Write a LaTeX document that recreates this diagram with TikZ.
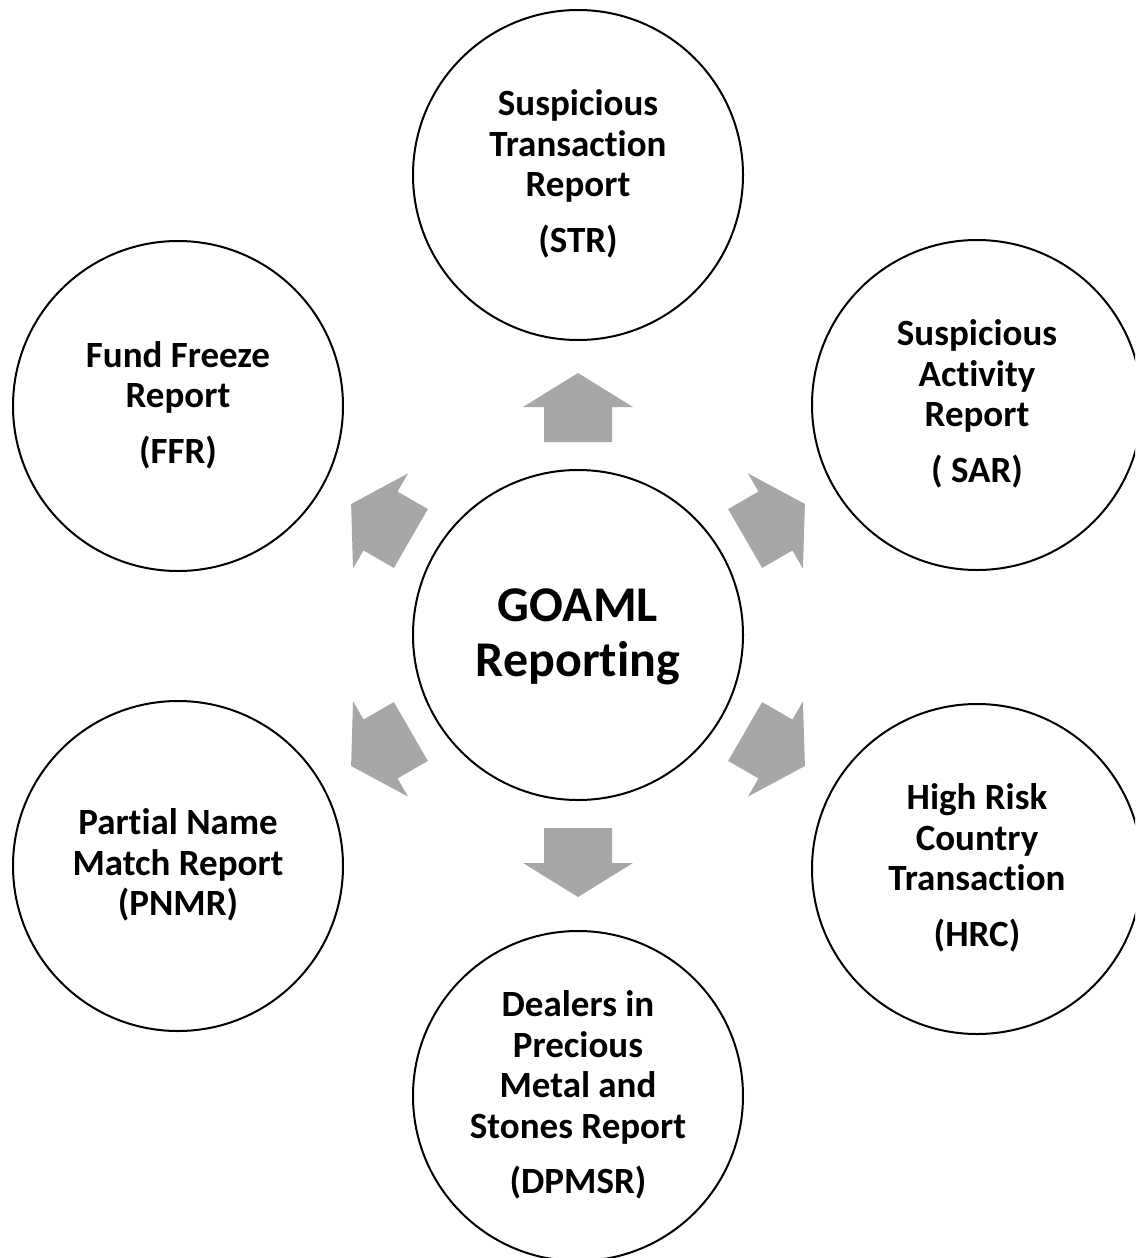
\documentclass[tikz,border=0pt]{standalone}
\usepackage{fontspec}
\setmainfont{Carlito}[Ligatures=NoCommon]
\definecolor{arrowgray}{RGB}{167,167,167}
\newcommand\lsx{\rule[-9pt]{0pt}{36pt}}
\newcommand\lbx{\rule[-12pt]{0pt}{52pt}}
\tikzset{
  bub/.style={circle, draw=black, line width=2pt, fill=white, minimum size=330pt,
    inner sep=0pt, align=center, font=\fontsize{37}{40.5}\selectfont\bfseries},
  hub/.style={bub, font=\fontsize{50}{55}\selectfont\bfseries},
  blockarrow/.style={fill=arrowgray, draw=none}
}
\begin{document}
\begin{tikzpicture}[x=1pt,y=-1pt]
\useasboundingbox (0,0) rectangle (1135,1258);
\clip (0,0) rectangle (1135,1258);
\fill[white] (0,0) rectangle (1135,1258);

\node[hub] (goaml) at (578,635) {\lbx GOAML\\\lbx Reporting};

\node[bub] (str) at (578,175) {\lsx Suspicious\\\lsx Transaction\\\lsx Report\\[15pt]\lsx (STR)};
\node[bub] (sar) at (977,405) {\lsx Suspicious\\\lsx Activity\\\lsx Report\\[15pt]\lsx ( SAR)};
\node[bub] (hrc) at (977,869) {\lsx High Risk\\\lsx Country\\\lsx Transaction\\[15pt]\lsx (HRC)};
\node[bub] (dpmsr) at (578,1096) {\lsx Dealers in\\\lsx Precious\\\lsx Metal and\\\lsx Stones Report\\[15pt]\lsx (DPMSR)};
\node[bub] (pnmr) at (178,866) {\lsx Partial Name\\\lsx Match Report\\\lsx (PNMR)};
\node[bub] (ffr) at (178,406) {\lsx Fund Freeze\\\lsx Report\\[15pt]\lsx (FFR)};

\foreach \ang in {90,30,-30,-90,-150,150}{
  \begin{scope}[shift={(goaml.center)}, rotate=\ang]
    \fill[blockarrow] (193,-34) -- (228,-34) -- (228,-55) -- (262,0) -- (228,55) -- (228,34) -- (193,34) -- cycle;
  \end{scope}
}
\end{tikzpicture}
\end{document}
